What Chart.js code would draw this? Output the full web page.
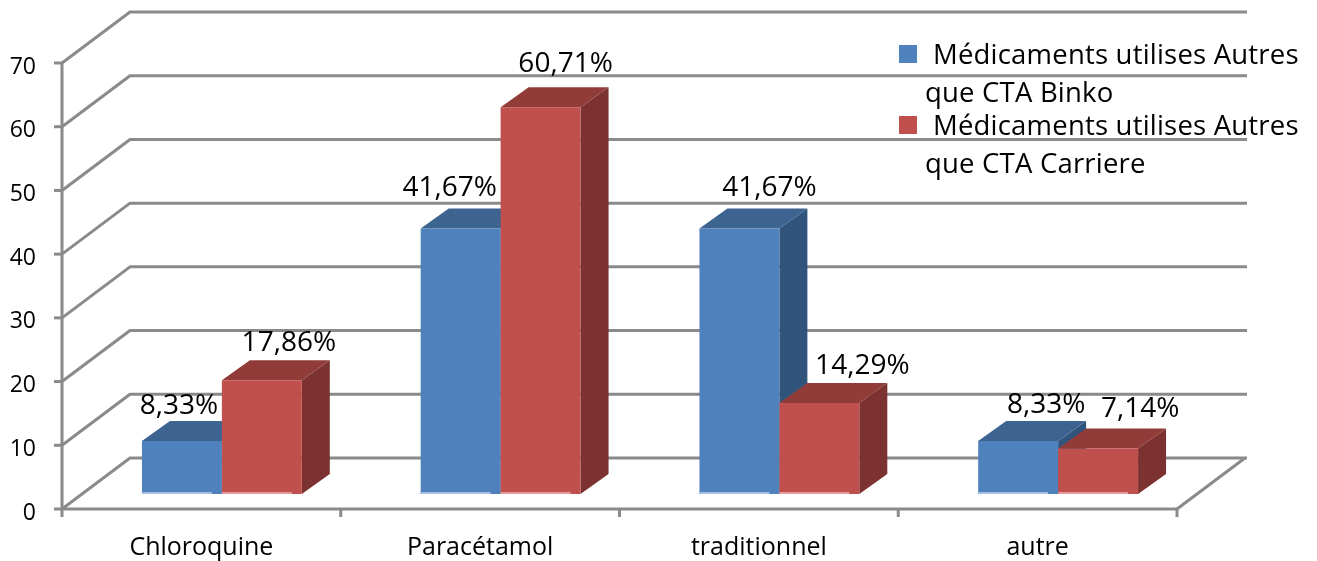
<!DOCTYPE html>
<html>
<head>
<meta charset="utf-8">
<style>
    html, body { margin: 0; padding: 0; background: #fff; }
    #wrap { width: 1317px; height: 561px; }
</style>
</head>
<body>
<div id="wrap"><canvas id="medChart" width="1317" height="561"></canvas></div>
<script src="https://cdn.jsdelivr.net/npm/chart.js@4/dist/chart.umd.min.js"></script>
<script>
const categories = ['Chloroquine', 'Paracétamol', 'traditionnel', 'autre'];
const binko = [8.33, 41.67, 41.67, 8.33];
const carriere = [17.86, 60.71, 14.29, 7.14];
const binkoLegend = ['Médicaments utilises Autres', 'que CTA Binko'];
const carriereLegend = ['Médicaments utilises Autres', 'que CTA Carriere'];

const FAMILY = '"Open Sans"';
const LABEL_FONT = '28px ' + FAMILY;
const LEGEND_FONT = '27.5px ' + FAMILY;
const TEXT = '#000';
const GRID = '#8a8a8a';

// depth of the floor, and of the bars standing on it
const FLOOR = { dx: 68, dy: -51 };
const BAR_SHIFT = { dx: 20.5, dy: -15 };
const BAR_DEPTH = { dx: 28, dy: -20 };

// 'middle' sits a little high for this font
const TEXT_DROP = 2;

// data labels are placed by hand around each bar top
const labelNudge = [
    [[-3, -37], [-11, -42], [30, -42], [28, -38]],
    [[27, -39], [25, -45], [43, -39], [42, -41]]
];

const palettes = [
    { front: '#4f81bd', top: '#3d6391', side: '#31547c', strip: '#a3bfe2' },
    { front: '#c0504d', top: '#923c3a', side: '#7c3230', strip: '#e39c9a' }
];

function line(ctx, x1, y1, x2, y2) {
    ctx.beginPath();
    ctx.moveTo(x1, y1);
    ctx.lineTo(x2, y2);
    ctx.stroke();
}

// Walls, floor and tick marks, following the library's scales
const wallsPlugin = {
    id: 'walls',
    beforeDatasetsDraw(chart) {
        const { ctx, scales: { x, y }, chartArea: area } = chart;
        ctx.save();
        ctx.strokeStyle = GRID;
        ctx.lineWidth = 3;
        ctx.lineJoin = 'round';

        y.ticks.forEach((tick, i) => {
            const py = y.getPixelForTick(i);
            const backY = py + FLOOR.dy;
            ctx.beginPath();
            ctx.moveTo(area.left, py);
            ctx.lineTo(area.left + FLOOR.dx, backY);
            ctx.lineTo(area.right + FLOOR.dx + 2, backY);
            ctx.stroke();
            line(ctx, area.left - 8, py, area.left, py);
        });

        line(ctx, area.left, area.top, area.left, area.bottom + 8);
        line(ctx, area.left, area.bottom, area.right, area.bottom);
        line(ctx, area.right, area.bottom, area.right + FLOOR.dx, area.bottom + FLOOR.dy);

        const band = (area.right - area.left) / categories.length;
        categories.forEach((c, i) => {
            const px = x.getPixelForTick(i) + band / 2;
            line(ctx, px, area.bottom, px, area.bottom + 8);
        });
        ctx.restore();
    }
};

// Draws the bars series by series, left one first, each with its top and side faces.
// The library would paint the left series last, so its own pass is cancelled.
const boxPlugin = {
    id: 'boxes',
    beforeDatasetsDraw(chart) {
        const { ctx } = chart;
        chart.data.datasets.forEach((ds, d) => {
            const meta = chart.getDatasetMeta(d);
            const colors = palettes[d];
            ctx.save();
            ctx.translate(BAR_SHIFT.dx, BAR_SHIFT.dy);
            meta.data.forEach(bar => {
                const left = bar.x - bar.width / 2;
                const right = bar.x + bar.width / 2;
                ctx.fillStyle = colors.side;
                ctx.beginPath();
                ctx.moveTo(right, bar.y);
                ctx.lineTo(right + BAR_DEPTH.dx, bar.y + BAR_DEPTH.dy);
                ctx.lineTo(right + BAR_DEPTH.dx, bar.base + BAR_DEPTH.dy);
                ctx.lineTo(right, bar.base);
                ctx.closePath();
                ctx.fill();
                ctx.fillStyle = colors.top;
                ctx.beginPath();
                ctx.moveTo(left, bar.y);
                ctx.lineTo(left + BAR_DEPTH.dx, bar.y + BAR_DEPTH.dy);
                ctx.lineTo(right + BAR_DEPTH.dx, bar.y + BAR_DEPTH.dy);
                ctx.lineTo(right, bar.y);
                ctx.closePath();
                ctx.fill();
            });
            meta.controller.draw();
            // pale reflection along the foot of each bar
            ctx.fillStyle = colors.strip;
            meta.data.forEach(bar => {
                ctx.fillRect(bar.x - bar.width / 2, bar.base - 2, bar.width - 10, 2);
            });
            ctx.restore();
        });
        return false;
    }
};

// Percentage labels and the two-line legend
const textPlugin = {
    id: 'texts',
    afterDraw(chart) {
        const { ctx } = chart;
        ctx.save();
        ctx.font = LABEL_FONT;
        ctx.fillStyle = TEXT;
        ctx.textAlign = 'center';
        ctx.textBaseline = 'middle';
        chart.data.datasets.forEach((ds, d) => {
            chart.getDatasetMeta(d).data.forEach((bar, i) => {
                const nudge = labelNudge[d][i];
                const text = ds.data[i].toFixed(2).replace('.', ',') + '%';
                ctx.fillText(text, bar.x + BAR_SHIFT.dx + nudge[0], bar.y + BAR_SHIFT.dy + nudge[1] + TEXT_DROP);
            });
        });

        ctx.font = LEGEND_FONT;
        ctx.letterSpacing = '0.2px';
        ctx.textAlign = 'left';
        [binkoLegend, carriereLegend].forEach((lines, d) => {
            const top = 54 + d * 71;
            ctx.fillStyle = palettes[d].front;
            ctx.fillRect(899, top - 9, 18, 18);
            ctx.fillStyle = TEXT;
            ctx.fillText(lines[0], 933, top + TEXT_DROP);
            ctx.fillText(lines[1], 925, top + 38 + TEXT_DROP);
        });
        ctx.restore();
    }
};

new Chart(document.getElementById('medChart').getContext('2d'), {
    type: 'bar',
    data: {
        labels: categories,
        datasets: [
            { label: binkoLegend.join(' '), data: binko, backgroundColor: palettes[0].front },
            { label: carriereLegend.join(' '), data: carriere, backgroundColor: palettes[1].front }
        ]
    },
    options: {
        responsive: false,
        animation: false,
        layout: { padding: { top: 63, right: 140, left: 0, bottom: 0 } },
        datasets: { bar: { categoryPercentage: 0.5735, barPercentage: 1 } },
        scales: {
            x: {
                grid: { display: false },
                border: { display: false },
                afterFit(scale) { scale.height = 52; },
                ticks: { color: TEXT, font: { family: 'Open Sans', size: 25 }, padding: 16, maxRotation: 0 }
            },
            y: {
                min: 0,
                max: 70,
                grid: { display: false },
                border: { display: false },
                afterFit(scale) { scale.width = 62; },
                afterUpdate(scale) {
                    // same drop for the axis numbers
                    const drawLabels = scale.drawLabels;
                    scale.drawLabels = area => {
                        scale.ctx.save();
                        scale.ctx.translate(0, 2);
                        drawLabels.call(scale, area);
                        scale.ctx.restore();
                    };
                },
                ticks: { stepSize: 10, color: TEXT, font: { family: 'Open Sans', size: 23 }, padding: 18 }
            }
        },
        plugins: {
            legend: { display: false },
            tooltip: { enabled: false }
        }
    },
    plugins: [wallsPlugin, boxPlugin, textPlugin]
});
</script>
</body>
</html>
